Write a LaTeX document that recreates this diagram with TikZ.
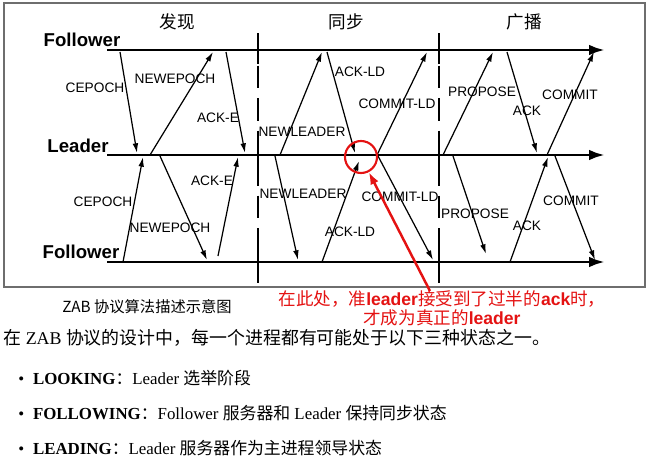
\documentclass[tikz,border=0pt]{standalone}
\usepackage{fontspec}
\setmainfont{Liberation Serif}
\newfontfamily\sansfont{Liberation Sans}
\newfontfamily\cjkfont{Noto Sans CJK SC}
\usetikzlibrary{arrows.meta,positioning}
\newcommand{\zh}[1]{{\cjkfont #1}}
\definecolor{notered}{RGB}{228,18,18}
\definecolor{framegray}{RGB}{110,110,110}
\tikzset{
        % Process lanes
        lane_line/.style={line width=1.7pt, -{Latex[length=9pt,width=6pt]}},
        lane_label/.style={inner sep=0pt, font=\sansfont\bfseries\fontsize{10.6}{12}\selectfont},
        % Phase separators
        phase_sep/.style={line width=1.6pt, dash pattern=on 13pt off 5.5pt},
        phase_tick/.style={line width=1.6pt},
        phase_title/.style={inner sep=0pt, font=\cjkfont\fontsize{10}{11}\selectfont},
        % Messages
        msg_arrow/.style={line width=0.7pt, -{Latex[length=5.5pt,width=3.2pt]}},
        msg_label/.style={inner sep=0.5pt, font=\sansfont\fontsize{7.8}{9}\selectfont},
        % Red remark
        note_text/.style={inner sep=0pt, align=center, text=notered, font=\fontsize{10}{10.8}\selectfont},
        note_arrow/.style={notered, line width=1.4pt, -{Latex[length=7pt,width=5pt]}},
        % Text below the picture
        text_line/.style={inner sep=0pt, anchor=west, font=\fontsize{10.2}{12}\selectfont},
        state_line/.style={text_line, font=\fontsize{9.6}{12}\selectfont}
}
\begin{document}
\begin{tikzpicture}[x=0.02cm, y=-0.02cm]
    \useasboundingbox (0,0) rectangle (647,463);
    \draw[framegray, line width=0.6pt] (4,3) rectangle (645,287);

    % phases
    \node[phase_title] (ph_disc) at (177,22) {发现};
    \node[phase_title] (ph_sync) at (346,22) {同步};
    \node[phase_title] (ph_bcast) at (524,22) {广播};
    \foreach \px in {258,439} {
        \draw[phase_sep] (\px,33) -- (\px,283);
        \foreach \ly in {50,155,262}
            \draw[phase_tick] (\px,\ly-14) -- (\px,\ly+14);
    }

    % lanes
    \node[lane_label] (fol_top) at (82,40) {Follower};
    \node[lane_label] (lead) at (78,146) {Leader};
    \node[lane_label] (fol_bot) at (81,252) {Follower};
    \coordinate (ft_w) at (107,50);  \coordinate (ft_e) at (605,50);
    \coordinate (ld_w) at (107,155); \coordinate (ld_e) at (605,155);
    \coordinate (fb_w) at (107,262); \coordinate (fb_e) at (605,262);
    \draw[lane_line] (ft_w) -- (ft_e);
    \draw[lane_line] (ld_w) -- (ld_e);
    \draw[lane_line] (fb_w) -- (fb_e);

    % messages
    \foreach \id/\sx/\sy/\ex/\ey in {
        cepoch_t/120/52/137/153, newepoch_t/150/155/213/52, acke_t/226/52/245/153,
        cepoch_b/123/262/143/157, newepoch_b/160/156/207/260, acke_b/218/256/238/157,
        newleader_t/280/155/322/52, ackld_t/327/52/355/153, commitld_t/377/155/427/52,
        newleader_b/275/156/298/260, ackld_b/322/262/359/161, commitld_b/378/156/433/260,
        propose_t/443/155/493/52, ack_t/507/52/537/153, commit_t/547/155/594/52,
        propose_b/453/156/486/254, ack_b/510/262/548/157, commit_b/555/156/595/260} {
        \coordinate (\id_s) at (\sx,\sy);
        \coordinate (\id_e) at (\ex,\ey);
        \draw[msg_arrow] (\id_s) -- (\id_e);
    }
    \foreach \id/\lx/\ly/\txt in {
        cepoch_t/95/88/CEPOCH, newepoch_t/175/79/NEWEPOCH, acke_t/218/118/ACK-E,
        cepoch_b/103/202/CEPOCH, newepoch_b/170/228/NEWEPOCH, acke_b/212/181/ACK-E,
        newleader_t/302/132/NEWLEADER, ackld_t/360/72/ACK-LD, commitld_t/397/104/COMMIT-LD,
        newleader_b/303/194/NEWLEADER, ackld_b/350/232/ACK-LD, commitld_b/400/197/COMMIT-LD,
        propose_t/482/92/PROPOSE, ack_t/527/111/ACK, commit_t/570/95/COMMIT,
        propose_b/475/214/PROPOSE, ack_b/527/226/ACK, commit_b/571/201/COMMIT}
        \node[msg_label] (lb_\id) at (\lx,\ly) {\txt};

    % quorum remark
    \node[draw=notered, line width=1.2pt, circle, minimum size=0.64cm] (quorum_mark) at (361,157) {};
    \node[note_text] (note) at (442,308) {\zh{在此处，准}{\sansfont\bfseries leader}\zh{接受到了过半的}{\sansfont\bfseries ack}\zh{时，}\\
        \zh{才成为真正的}{\sansfont\bfseries leader}};
    \coordinate (note_tail) at (430,291);
    \draw[note_arrow] (note_tail) -- (quorum_mark);

    % caption and text
    \node[inner sep=0pt, font=\cjkfont\fontsize{8.7}{10}\selectfont] (caption) at (147,307) {ZAB 协议算法描述示意图};
    \node[text_line] (intro) at (3,338) {\zh{在} ZAB \zh{协议的设计中，每一个进程都有可能处于以下三种状态之一。}};
    \node[state_line] (st_looking) at (18,378) {•\hspace{5pt}\textbf{LOOKING}\zh{：}Leader \zh{选举阶段}};
    \node[state_line] (st_following) at (18,413) {•\hspace{5pt}\textbf{FOLLOWING}\zh{：}Follower \zh{服务器和} Leader \zh{保持同步状态}};
    \node[state_line] (st_leading) at (18,448) {•\hspace{5pt}\textbf{LEADING}\zh{：}Leader \zh{服务器作为主进程领导状态}};
\end{tikzpicture}
\end{document}
